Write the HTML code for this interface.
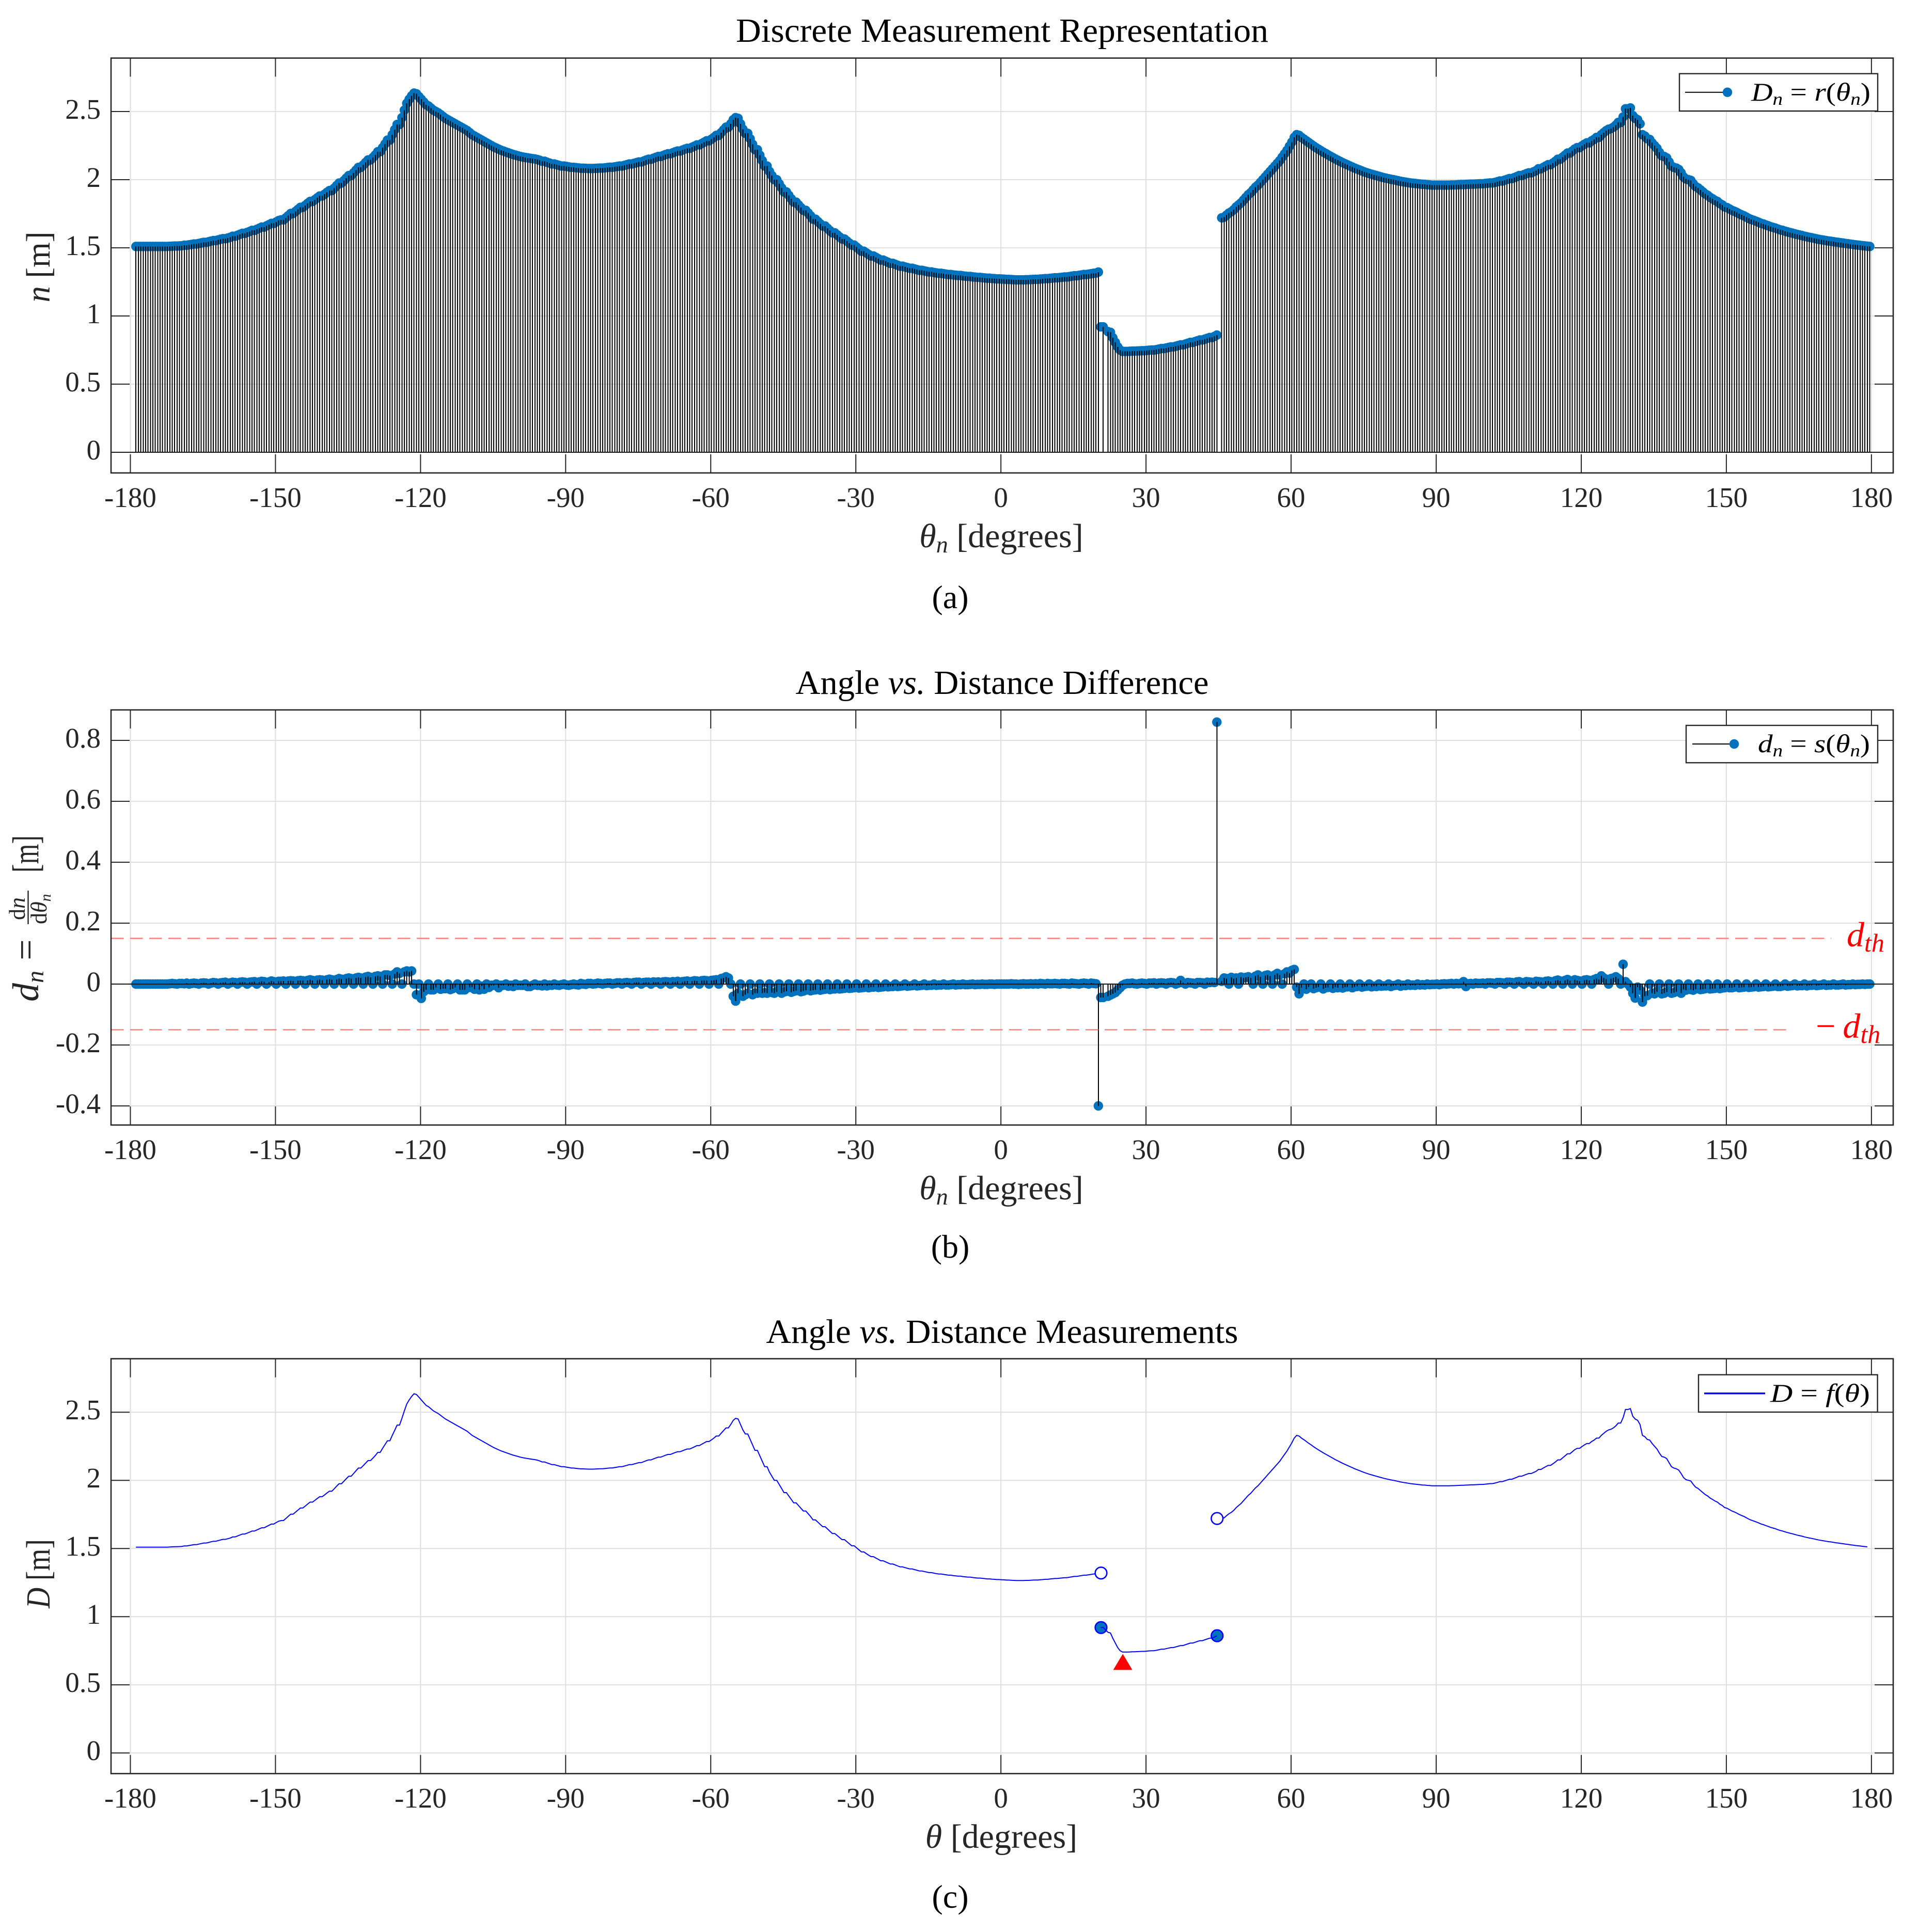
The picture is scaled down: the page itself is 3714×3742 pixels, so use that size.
<!DOCTYPE html>
<html lang="en">
<head>
<meta charset="utf-8">
<title>Discrete Measurement Charts</title>
<style>
html,body{margin:0;padding:0;background:#fff;width:3714px;height:3742px;overflow:hidden}
svg{display:block}
text{font-family:"Liberation Serif","DejaVu Serif",serif;fill:#000}
.tick{font-size:55px;fill:#262626}
.title{font-size:66px}
.label{font-size:66px;fill:#262626}
.caption{font-size:64px}
.legend-text{font-size:50px}
.math{font-style:italic}
.red{fill:#ff0000;font-size:68px;font-style:italic}
</style>
</head>
<body>
<svg id="figure" xmlns="http://www.w3.org/2000/svg" width="3714" height="3742" viewBox="0 0 3714 3742">
<rect x="0" y="0" width="3714" height="3742" fill="#ffffff"/>
<g id="plots"></g>
<g id="static-text">
<text class="title" x="1940.5" y="81" text-anchor="middle" textLength="1031" lengthAdjust="spacingAndGlyphs">Discrete Measurement Representation</text>
<text class="title" x="1940.5" y="1344" text-anchor="middle" textLength="800" lengthAdjust="spacingAndGlyphs">Angle <tspan class="math">vs.</tspan> Distance Difference</text>
<text class="title" x="1940.5" y="2601" text-anchor="middle" textLength="914" lengthAdjust="spacingAndGlyphs">Angle <tspan class="math">vs.</tspan> Distance Measurements</text>

<text class="label" x="1939" y="1060" text-anchor="middle"><tspan class="math">θ</tspan><tspan class="math" font-size="46" dy="10">n</tspan><tspan dy="-10"> [degrees]</tspan></text>
<text class="label" x="1939" y="2323" text-anchor="middle"><tspan class="math">θ</tspan><tspan class="math" font-size="46" dy="10">n</tspan><tspan dy="-10"> [degrees]</tspan></text>
<text class="label" x="1939" y="3579" text-anchor="middle"><tspan class="math">θ</tspan><tspan> [degrees]</tspan></text>

<text class="label" transform="translate(96 517) rotate(-90)" text-anchor="middle" textLength="137" lengthAdjust="spacingAndGlyphs"><tspan class="math">n</tspan> [m]</text>
<text class="label" transform="translate(96 3048) rotate(-90)" text-anchor="middle" textLength="134" lengthAdjust="spacingAndGlyphs"><tspan class="math">D</tspan> [m]</text>

<g>
<text class="label" style="font-size:72px" transform="translate(74 1940) rotate(-90)"><tspan class="math">d</tspan><tspan class="math" font-size="48" dy="10">n</tspan></text>
<text class="label" style="font-size:72px" transform="translate(74 1860) rotate(-90)">=</text>
<text class="label" style="font-size:44px" transform="translate(48 1782) rotate(-90)">d<tspan class="math">n</tspan></text>
<line x1="54.5" y1="1725" x2="54.5" y2="1790" stroke="#262626" stroke-width="2.4"/>
<text class="label" style="font-size:44px" transform="translate(90 1790) rotate(-90)">d<tspan class="math">θ</tspan><tspan class="math" font-size="30" dy="8">n</tspan></text>
<text class="label" style="font-size:72px" transform="translate(74 1690) rotate(-90)" textLength="72" lengthAdjust="spacingAndGlyphs">[m]</text>
</g>

<text class="red" x="3576" y="1833">d<tspan font-size="50" dy="10">th</tspan></text>
<text class="red" x="3516" y="2010"><tspan style="font-style:normal">−</tspan><tspan dx="14">d</tspan><tspan font-size="50" dy="10">th</tspan></text>

<text class="caption" x="1840" y="1178" text-anchor="middle">(a)</text>
<text class="caption" x="1840" y="2436" text-anchor="middle">(b)</text>
<text class="caption" x="1840" y="3695" text-anchor="middle">(c)</text>
</g>
<g id="legends">
<g>
<rect x="3252" y="142.7" width="384" height="72.3" fill="#fff" stroke="#262626" stroke-width="2.4"/>
<line x1="3263" y1="178.7" x2="3345" y2="178.7" stroke="#000" stroke-width="2"/>
<circle cx="3345" cy="178.7" r="9.2" fill="#0072BD"/>
<text class="legend-text math" x="3391" y="195" textLength="231" lengthAdjust="spacingAndGlyphs">D<tspan font-size="34" dy="8">n</tspan><tspan dy="-8" style="font-style:normal"> = </tspan>r<tspan style="font-style:normal">(</tspan>θ<tspan font-size="34" dy="8">n</tspan><tspan dy="-8" style="font-style:normal">)</tspan></text>
</g>
<g>
<rect x="3265" y="1405" width="371" height="72.3" fill="#fff" stroke="#262626" stroke-width="2.4"/>
<line x1="3277" y1="1441" x2="3358" y2="1441" stroke="#000" stroke-width="2"/>
<circle cx="3358" cy="1441" r="9.2" fill="#0072BD"/>
<text class="legend-text math" x="3404" y="1457" textLength="217" lengthAdjust="spacingAndGlyphs">d<tspan font-size="34" dy="8">n</tspan><tspan dy="-8" style="font-style:normal"> = </tspan>s<tspan style="font-style:normal">(</tspan>θ<tspan font-size="34" dy="8">n</tspan><tspan dy="-8" style="font-style:normal">)</tspan></text>
</g>
<g>
<rect x="3289" y="2662.7" width="346.6" height="72.3" fill="#fff" stroke="#262626" stroke-width="2.4"/>
<line x1="3300" y1="2698.8" x2="3418" y2="2698.8" stroke="#0000ff" stroke-width="3.3"/>
<text class="legend-text math" x="3428" y="2715" textLength="193" lengthAdjust="spacingAndGlyphs">D<tspan style="font-style:normal"> = </tspan>f<tspan style="font-style:normal">(</tspan>θ<tspan style="font-style:normal">)</tspan></text>
</g>
</g>
</svg>
<script>
const thetaStart = -178.85;
const thetaStep = 0.5;
const xTickValues = [-180,-150,-120,-90,-60,-30,0,30,60,90,120,150,180];
const yTickValuesRange = [0,0.5,1,1.5,2,2.5];
const yTickValuesDiff = [-0.4,-0.2,0,0.2,0.4,0.6,0.8];
const thresholdValues = [0.15,-0.15];
const jumpThetas = [20.7,44.7];
const jumpOpenValues = [1.32,1.72];
const jumpFilledValues = [0.92,0.86];
const cornerThetas = [25.2];
const cornerValues = [0.668];
const stemlessSamples = [399];
const lineSegments = [[0,398],[399,447],[449,716]];
const rangeValues = [
1.51,1.51,1.51,1.51,1.51,1.51,1.51,1.51,1.51,1.51,1.51,1.51,1.51,1.51,1.511,1.512,1.513,1.513,1.514,1.515,
1.519,1.519,1.522,1.525,1.528,1.528,1.532,1.536,1.54,1.54,1.544,1.549,1.553,1.553,1.558,1.563,1.567,1.567,1.572,1.577,
1.585,1.585,1.592,1.599,1.606,1.606,1.613,1.62,1.628,1.628,1.636,1.644,1.652,1.652,1.661,1.67,1.679,1.679,1.69,1.7,
1.705,1.705,1.72,1.736,1.752,1.752,1.767,1.782,1.797,1.797,1.811,1.826,1.84,1.84,1.853,1.867,1.88,1.88,1.893,1.907,
1.92,1.92,1.938,1.957,1.975,1.975,1.993,2.012,2.03,2.03,2.05,2.07,2.09,2.09,2.108,2.127,2.145,2.145,2.163,2.182,
2.205,2.205,2.235,2.262,2.29,2.29,2.33,2.367,2.405,2.405,2.455,2.51,2.56,2.59,2.615,2.635,2.63,2.61,2.59,2.57,
2.55,2.54,2.525,2.51,2.5,2.49,2.477,2.463,2.45,2.44,2.43,2.42,2.41,2.4,2.39,2.38,2.37,2.36,2.345,2.33,
2.32,2.31,2.3,2.29,2.28,2.27,2.26,2.25,2.24,2.232,2.224,2.216,2.21,2.203,2.197,2.191,2.185,2.18,2.175,2.17,
2.166,2.163,2.16,2.157,2.154,2.152,2.148,2.142,2.135,2.135,2.128,2.122,2.115,2.115,2.11,2.105,2.1,2.1,2.097,2.094,
2.09,2.09,2.088,2.086,2.084,2.084,2.083,2.082,2.082,2.082,2.083,2.084,2.085,2.085,2.087,2.089,2.091,2.091,2.094,2.097,
2.1,2.1,2.105,2.11,2.115,2.115,2.12,2.125,2.13,2.13,2.137,2.144,2.15,2.15,2.157,2.164,2.17,2.17,2.177,2.184,
2.19,2.19,2.197,2.204,2.21,2.21,2.217,2.224,2.23,2.23,2.238,2.246,2.255,2.255,2.265,2.275,2.285,2.285,2.297,2.31,
2.325,2.325,2.345,2.365,2.385,2.385,2.41,2.44,2.455,2.45,2.41,2.37,2.34,2.34,2.3,2.26,2.22,2.22,2.18,2.14,
2.1,2.1,2.06,2.03,2.0,2.0,1.97,1.94,1.91,1.91,1.885,1.86,1.835,1.835,1.815,1.795,1.775,1.775,1.755,1.735,
1.71,1.71,1.693,1.676,1.66,1.66,1.643,1.626,1.61,1.61,1.595,1.58,1.565,1.565,1.55,1.535,1.52,1.52,1.505,1.49,
1.475,1.475,1.463,1.451,1.44,1.44,1.43,1.42,1.41,1.41,1.402,1.394,1.386,1.386,1.379,1.372,1.365,1.365,1.36,1.355,
1.35,1.35,1.345,1.34,1.335,1.335,1.331,1.327,1.323,1.323,1.319,1.316,1.313,1.313,1.31,1.307,1.304,1.304,1.301,1.299,
1.297,1.297,1.294,1.292,1.29,1.29,1.287,1.285,1.283,1.283,1.281,1.279,1.277,1.277,1.275,1.274,1.272,1.272,1.271,1.27,
1.268,1.268,1.267,1.266,1.265,1.265,1.265,1.265,1.266,1.266,1.267,1.268,1.269,1.269,1.271,1.272,1.274,1.274,1.276,1.278,
1.28,1.28,1.282,1.284,1.286,1.286,1.289,1.292,1.295,1.295,1.298,1.301,1.304,1.304,1.307,1.31,1.313,1.315,1.322,0.92,
0.92,null,0.885,0.88,0.84,0.807,0.773,0.75,0.74,0.74,0.74,0.741,0.742,0.742,0.743,0.744,0.745,0.745,0.747,0.749,
0.75,0.75,0.753,0.757,0.761,0.761,0.765,0.769,0.773,0.773,0.778,0.783,0.788,0.788,0.794,0.8,0.806,0.806,0.812,0.818,
0.824,0.824,0.83,0.836,0.842,0.842,0.85,0.86,null,1.72,1.725,1.74,1.755,1.765,1.78,1.8,1.815,1.83,1.85,1.87,
1.89,1.905,1.925,1.945,1.96,1.98,2.0,2.02,2.04,2.06,2.08,2.1,2.12,2.14,2.165,2.19,2.215,2.245,2.275,2.31,
2.33,2.325,2.31,2.298,2.285,2.272,2.26,2.247,2.235,2.224,2.213,2.202,2.192,2.182,2.172,2.162,2.152,2.143,2.134,2.125,
2.117,2.109,2.101,2.093,2.085,2.078,2.071,2.064,2.057,2.051,2.045,2.04,2.035,2.03,2.025,2.02,2.015,2.011,2.007,2.003,
2.0,1.996,1.992,1.988,1.985,1.982,1.979,1.976,1.974,1.972,1.97,1.968,1.966,1.965,1.963,1.962,1.96,1.96,1.96,1.96,
1.96,1.96,1.96,1.96,1.961,1.961,1.962,1.963,1.964,1.964,1.965,1.966,1.967,1.967,1.968,1.969,1.97,1.97,1.972,1.974,
1.976,1.976,1.98,1.985,1.99,1.99,1.996,2.002,2.008,2.008,2.015,2.022,2.03,2.03,2.037,2.044,2.05,2.05,2.058,2.066,
2.08,2.08,2.09,2.1,2.11,2.11,2.122,2.135,2.15,2.15,2.165,2.18,2.195,2.195,2.21,2.225,2.235,2.235,2.248,2.26,
2.27,2.27,2.285,2.295,2.31,2.31,2.33,2.345,2.36,2.37,2.375,2.385,2.4,2.42,2.42,2.46,2.52,2.52,2.526,2.47,
2.45,2.44,2.41,2.33,2.32,2.3,2.295,2.27,2.25,2.23,2.2,2.175,2.17,2.16,2.13,2.1,2.09,2.085,2.075,2.05,
2.02,2.005,2.0,1.995,1.97,1.95,1.94,1.925,1.91,1.895,1.885,1.87,1.86,1.848,1.84,1.825,1.815,1.8,1.795,1.785,
1.775,1.768,1.76,1.75,1.742,1.735,1.725,1.715,1.708,1.702,1.695,1.688,1.68,1.675,1.668,1.662,1.655,1.65,1.645,1.638,
1.632,1.628,1.622,1.617,1.612,1.608,1.603,1.598,1.594,1.59,1.585,1.581,1.577,1.574,1.57,1.566,1.562,1.559,1.556,1.553,
1.55,1.548,1.545,1.542,1.54,1.537,1.535,1.532,1.53,1.527,1.525,1.522,1.52,1.518,1.516,1.514,1.512,1.51
];
const differenceValues = [
0,0,0,0,0,0,0,0,0,0,0,0,0,0,0.001,0.002,0.001,0,0.002,0.002,
0.001,0.003,0,0.002,0.003,0.002,0,0.003,0.004,0.003,0,0.003,0.005,0.004,0,0.004,0.005,0.006,0,0.004,
0.006,0.005,0,0.006,0.007,0.006,0,0.006,0.007,0.008,0,0.007,0.009,0.008,0,0.007,0.01,0.008,0,0.009,
0.009,0.01,0,0.01,0.011,0.01,0,0.011,0.012,0.011,0,0.012,0.014,0.012,0,0.013,0.014,0.013,0,0.014,
0.016,0.014,0,0.015,0.018,0.016,0,0.018,0.02,0.018,0,0.02,0.022,0.02,0,0.023,0.025,0.022,0,0.025,
0.027,0.025,0,0.03,0.03,0.028,0,0.033,0.04,0.035,0,0.04,0.043,0.04,0.043,0,-0.035,0,-0.047,-0.025,
-0.019,0,-0.019,-0.019,-0.011,0,-0.017,-0.015,-0.015,0,-0.018,-0.015,-0.011,0,-0.019,-0.019,-0.019,0,-0.011,-0.01,
-0.017,0,-0.019,-0.007,-0.017,0,-0.011,-0.004,-0.004,0,-0.012,-0.004,-0.004,0,-0.007,-0.004,-0.008,0,-0.004,-0.004,
-0.004,0,-0.008,-0.008,-0.004,0,-0.004,-0.004,-0.006,0,-0.006,-0.003,-0.004,0,-0.003,-0.004,-0.002,0,-0.003,-0.004,
-0.002,0,-0.002,-0.003,0.002,0,-0.001,0.002,0.002,0,0.001,0.003,0.002,0,0.002,0.003,0.003,0,0.002,0.004,
0.004,0,0.004,0.005,0.004,0,0.005,0.006,0.006,0,0.005,0.006,0.006,0,0.007,0.006,0.007,0,0.007,0.008,
0.007,0,0.008,0.007,0.009,0,0.008,0.009,0.01,0,0.009,0.011,0.01,0,0.011,0.012,0.011,0,0.012,0.013,
0.014,0,0.018,0.02,0.024,0.02,0,-0.04,-0.056,-0.03,0,-0.04,-0.035,-0.03,0,-0.035,-0.03,-0.03,0,-0.03,
-0.028,-0.03,0,-0.028,-0.03,-0.025,0,-0.03,-0.026,-0.024,0,-0.027,-0.024,-0.022,0,-0.025,-0.023,-0.02,0,-0.022,
-0.02,-0.019,0,-0.02,-0.018,-0.017,0,-0.018,-0.016,-0.016,0,-0.016,-0.015,-0.014,0,-0.014,-0.013,-0.012,0,-0.013,
-0.012,-0.011,0,-0.012,-0.01,-0.01,0,-0.011,-0.01,-0.009,0,-0.009,-0.008,-0.008,0,-0.008,-0.007,-0.006,0,-0.007,
-0.006,-0.005,0,-0.006,-0.005,-0.004,0,-0.005,-0.004,-0.004,0,-0.004,-0.003,-0.003,0,-0.003,-0.003,-0.002,0,-0.003,
-0.002,-0.002,0,-0.002,-0.002,-0.001,0,-0.002,-0.001,-0.001,0,-0.001,-0.001,0,0,-0.001,0,0,0,0,
0,0,0.001,0,0,-0.001,0,0.001,0,0,0.001,0,0.001,0,0.002,0.001,0,0.002,0.001,0.001,
0.002,0.001,0,0.002,0.002,0.001,0,0.003,0.002,0.001,0,0.002,0.003,0.002,0,0.003,0.002,0.001,-0.4,-0.044,
-0.044,null,-0.04,-0.036,-0.032,-0.028,-0.02,-0.012,-0.004,0,0.002,0.002,0.003,0.001,0,0.002,0.003,0.002,0,0.003,
0.003,0.004,0,0.003,0.004,0.003,0,0.004,0.005,0.004,0,0.003,0.012,0.004,0,0.005,0.004,0.003,0,0.005,
0.005,0.004,0,0.006,0.005,0.006,0.005,0.86,null,0.009,0.02,0.018,0,0.022,0.018,0.02,0,0.023,0.02,0.022,
0.024,0.02,0,0.026,0.03,0.024,0,0.028,0.03,0.026,0,0.03,0.035,0.03,0,0.034,0.04,0.036,0.045,0.048,
-0.01,-0.032,-0.012,0,-0.017,-0.01,0,-0.015,-0.012,-0.01,0,-0.016,-0.012,-0.011,0,-0.014,-0.01,-0.012,0,-0.013,
-0.01,-0.009,0,-0.012,-0.009,-0.008,0,-0.01,-0.008,-0.007,0,-0.009,-0.007,-0.008,0,-0.007,-0.006,-0.006,0,-0.008,
-0.005,-0.004,0,-0.007,-0.004,-0.005,0,-0.004,-0.003,-0.004,0,-0.003,-0.002,-0.003,0,-0.002,-0.001,-0.001,0,-0.002,
0,0.001,0,0.001,0.002,0,0.002,0.001,0.002,0.008,-0.008,0.001,0.002,0,0.003,0.002,0.002,0.003,0,0.004,
0.004,0.003,0,0.005,0.005,0.004,0,0.006,0.006,0.005,0,0.007,0.008,0.005,0,0.008,0.007,0.006,0,0.009,
0.008,0.007,0,0.009,0.01,0.008,0,0.011,0.013,0.01,0,0.012,0.015,0.011,0,0.014,0.012,0.01,0,0.013,
0.014,0.012,0,0.015,0.018,0.015,0.027,0.02,0.016,0,0.018,0.02,0.024,0.018,0,0.065,0.008,0,-0.01,-0.03,
-0.046,-0.01,-0.02,-0.059,-0.04,-0.038,0,-0.03,-0.032,-0.025,0,-0.032,-0.03,-0.026,0,-0.03,-0.028,-0.025,0,-0.03,
-0.018,-0.02,0,-0.018,-0.02,-0.016,0,-0.018,-0.017,-0.015,0,-0.016,-0.015,-0.014,0,-0.015,-0.013,-0.012,0,-0.012,
-0.012,-0.01,0,-0.012,-0.011,-0.01,0,-0.011,-0.01,-0.009,0,-0.01,-0.009,-0.008,0,-0.009,-0.008,-0.007,0,-0.008,
-0.008,-0.006,0,-0.007,-0.006,-0.005,0,-0.006,-0.005,-0.005,0,-0.006,-0.004,-0.004,0,-0.005,-0.004,-0.003,0,-0.004,
-0.003,-0.003,0,-0.003,-0.003,-0.002,0,-0.003,-0.002,-0.002,0,-0.002,-0.001,-0.001,0,-0.001,0,0
];

const NS = 'http://www.w3.org/2000/svg';
const AX_LEFT = 215, AX_RIGHT = 3666, TICK_LEN = 36;
const X_MIN = -184, X_MAX = 184.5;
const plots = document.getElementById('plots');

function xScale(t){ return AX_LEFT + (t - X_MIN) / (X_MAX - X_MIN) * (AX_RIGHT - AX_LEFT); }
function makeYScale(top, bottom, yMin, yMax){
  return function(v){ return bottom - (v - yMin) / (yMax - yMin) * (bottom - top); };
}
function sampleTheta(k){ return thetaStart + thetaStep * k; }
function shape(parent, tag, attrs){
  const el = document.createElementNS(NS, tag);
  for (const key in attrs) el.setAttribute(key, attrs[key]);
  parent.appendChild(el);
  return el;
}
function newGroup(parent, name){
  const g = document.createElementNS(NS, 'g');
  
  
  parent.appendChild(g);
  return g;
}
function drawAxes(id, top, bottom, yScale, yTicks){
  const grid = newGroup(plots, 'grid-' + id);
  const ticks = newGroup(plots, 'ticks-' + id);
  const labels = newGroup(plots, 'tick-labels-' + id);
  xTickValues.forEach(function(t){
    const x = xScale(t);
    const g = shape(grid, 'line', {x1:x, x2:x, y1:top, y2:bottom, stroke:'#dfdfdf', 'stroke-width':2});
    
    
    const t1 = shape(ticks, 'line', {x1:x, x2:x, y1:bottom, y2:bottom - TICK_LEN, stroke:'#262626', 'stroke-width':2});
    
    
    const t2 = shape(ticks, 'line', {x1:x, x2:x, y1:top, y2:top + TICK_LEN, stroke:'#262626', 'stroke-width':2});
    
    
    const lab = shape(labels, 'text', {x:x, y:bottom + 66, 'text-anchor':'middle', class:'tick'});
    
    
    lab.textContent = String(t);
  });
  yTicks.forEach(function(v){
    const y = yScale(v);
    const g = shape(grid, 'line', {x1:AX_LEFT, x2:AX_RIGHT, y1:y, y2:y, stroke:'#dfdfdf', 'stroke-width':2});
    
    
    const t1 = shape(ticks, 'line', {x1:AX_LEFT, x2:AX_LEFT + TICK_LEN, y1:y, y2:y, stroke:'#262626', 'stroke-width':2});
    
    
    const t2 = shape(ticks, 'line', {x1:AX_RIGHT, x2:AX_RIGHT - TICK_LEN, y1:y, y2:y, stroke:'#262626', 'stroke-width':2});
    
    
    const lab = shape(labels, 'text', {x:195, y:y + 14, 'text-anchor':'end', class:'tick'});
    
    
    lab.textContent = String(v);
  });
}
function drawBox(id, top, bottom){
  const box = shape(plots, 'rect', {x:AX_LEFT, y:top, width:AX_RIGHT - AX_LEFT, height:bottom - top, fill:'none', stroke:'#262626', 'stroke-width':2.6});
  
  
}
function drawStems(id, values, yScale, withoutStem){
  const markers = newGroup(plots, 'markers-' + id);
  const stems = newGroup(plots, 'stems-' + id);
  stems.setAttribute('shape-rendering', 'crispEdges');
  const zero = yScale(0);
  const base = shape(stems, 'line', {x1:AX_LEFT, x2:AX_RIGHT, y1:zero, y2:zero, stroke:'#1a1a1a', 'stroke-width':2});
  
  
  values.forEach(function(v, k){
    if (v === null) return;
    const x = xScale(sampleTheta(k));
    const y = yScale(v);
    const c = shape(markers, 'circle', {cx:x, cy:y, r:9.2, fill:'#0072BD'});
    
    
    if (withoutStem.indexOf(k) >= 0) return;
    const s = shape(stems, 'line', {x1:x, x2:x, y1:zero, y2:y, stroke:'#000', 'stroke-width':2});
    
    
  });
}

/* panel a */
const yA = makeYScale(112.5, 916, -0.1515, 2.892);
drawAxes('a', 112.5, 916, yA, yTickValuesRange);
drawStems('a', rangeValues, yA, stemlessSamples);
drawBox('a', 112.5, 916);

/* panel b */
const yB = makeYScale(1375, 2179, -0.4627, 0.9);
drawAxes('b', 1375, 2179, yB, yTickValuesDiff);
drawStems('b', differenceValues, yB, []);
const thresholdGroup = newGroup(plots, 'threshold-lines');
thresholdValues.forEach(function(v, i){
  const xEnd = i === 0 ? 3546 : 3471;
  const l = shape(thresholdGroup, 'line', {x1:AX_LEFT, x2:xEnd, y1:yB(v), y2:yB(v), stroke:'#ff8080', 'stroke-width':2.4, 'stroke-dasharray':'24.5 12.5'});
  
  
});
drawBox('b', 1375, 2179);

/* panel c */
const yC = makeYScale(2631.7, 3435.2, -0.1515, 2.892);
drawAxes('c', 2631.7, 3435.2, yC, yTickValuesRange);
const filledGroup = newGroup(plots, 'segment-start-points');
jumpThetas.forEach(function(t, i){
  const c = shape(filledGroup, 'circle', {cx:xScale(t), cy:yC(jumpFilledValues[i]), r:11.3, fill:'#0072BD', stroke:'#0000ff', 'stroke-width':2.6});
  
  
});
const lineGroup = newGroup(plots, 'distance-curve');
lineSegments.forEach(function(seg){
  const pts = [];
  for (let k = seg[0]; k <= seg[1]; k++) {
    if (rangeValues[k] === null) continue;
    pts.push(xScale(sampleTheta(k)).toFixed(1) + ',' + yC(rangeValues[k]).toFixed(1));
  }
  const p = shape(lineGroup, 'polyline', {points:pts.join(' '), fill:'none', stroke:'#0000ff', 'stroke-width':2});
  
  
});
const openGroup = newGroup(plots, 'jump-open-points');
jumpThetas.forEach(function(t, i){
  const c = shape(openGroup, 'circle', {cx:xScale(t), cy:yC(jumpOpenValues[i]), r:11.3, fill:'#ffffff', stroke:'#0000ff', 'stroke-width':2.6});
  
  
});
const cornerGroup = newGroup(plots, 'corner-markers');
cornerThetas.forEach(function(t, i){
  const cx = xScale(t), cy = yC(cornerValues[i]);
  const tri = shape(cornerGroup, 'polygon', {points:cx + ',' + (cy - 15.5) + ' ' + (cx - 18.5) + ',' + (cy + 15.5) + ' ' + (cx + 18.5) + ',' + (cy + 15.5), fill:'#ff0000'});
  
  
});
drawBox('c', 2631.7, 3435.2);
</script>
</body>
</html>
